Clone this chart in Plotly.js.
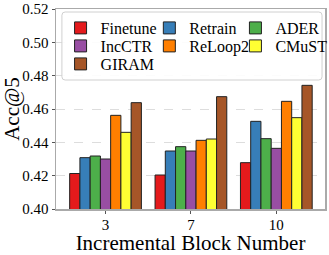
<!DOCTYPE html>
<html>
<head>
<meta charset="utf-8">
<script src="https://cdn.plot.ly/plotly-3.0.1.min.js"></script>
<style>html,body{margin:0;padding:0;background:#fff;}#chart{width:329px;height:255px;}</style>
</head>
<body>
<div id="chart"></div>
<script>
const categories = ['3', '7', '10'];
const seriesNames = ['Finetune', 'Retrain', 'ADER', 'IncCTR', 'ReLoop2', 'CMuST', 'GIRAM'];
const finetune = [0.4213, 0.4204, 0.4278];
const retrain  = [0.4308, 0.4348, 0.4526];
const ader     = [0.4318, 0.4374, 0.4422];
const incctr   = [0.4300, 0.4348, 0.4364];
const reloop2  = [0.4562, 0.4412, 0.4646];
const cmust    = [0.4460, 0.4420, 0.4548];
const giram    = [0.4638, 0.4674, 0.4742];
const seriesValues = [finetune, retrain, ader, incctr, reloop2, cmust, giram];
const colors = ['#e41a1c', '#377eb8', '#4daf4a', '#984ea3', '#ff7f00', '#ffff33', '#a65628'];

const font = 'Liberation Serif, Times New Roman, serif';
const xIdx = categories.map((c, i) => i);

// legend grid: 3 columns, filled row by row
const legendCols = [0.017, 0.347, 0.667];
const legendRows = [0.99, 0.90, 0.81];

const traces = seriesNames.map((name, i) => ({
  type: 'bar',
  name: name,
  x: xIdx,
  y: seriesValues[i],
  legend: i === 0 ? 'legend' : 'legend' + (i + 1),
  marker: {color: colors[i], line: {color: '#222', width: 1}},
  hoverinfo: 'skip'
}));

function legendAt(x, y) {
  return {
    orientation: 'v',
    x: x, y: y, xanchor: 'left', yanchor: 'top',
    bgcolor: 'rgba(0,0,0,0)',
    borderwidth: 0,
    font: {family: font, size: 16, color: '#000'},
    tracegroupgap: 0,
    itemwidth: 30
  };
}

// rounded legend frame in paper coords
const bx0 = 0.022, bx1 = 0.989, by0 = 0.645, by1 = 0.985, rx = 0.012, ry = 0.016;
const framePath = `M ${bx0+rx} ${by1} L ${bx1-rx} ${by1} Q ${bx1} ${by1} ${bx1} ${by1-ry} L ${bx1} ${by0+ry} Q ${bx1} ${by0} ${bx1-rx} ${by0} L ${bx0+rx} ${by0} Q ${bx0} ${by0} ${bx0} ${by0+ry} L ${bx0} ${by1-ry} Q ${bx0} ${by1} ${bx0+rx} ${by1} Z`;

const layout = {
  width: 329, height: 255,
  margin: {l: 56, r: 4, t: 9, b: 46, autoexpand: false},
  paper_bgcolor: '#fff', plot_bgcolor: '#fff',
  barmode: 'group',
  bargap: 0.16,
  bargroupgap: 0,
  font: {family: font, color: '#000', size: 16},
  showlegend: true,
  shapes: [{
    type: 'path', xref: 'paper', yref: 'paper', path: framePath,
    fillcolor: 'rgba(255,255,255,0.9)', line: {color: '#d0d0d0', width: 1}, layer: 'above'
  }],
  xaxis: {
    range: [-0.58, 2.57],
    tickvals: xIdx,
    ticktext: categories,
    ticks: 'outside', ticklen: 3, tickcolor: '#555',
    ticklabelstandoff: -2,
    showgrid: false,
    zeroline: false,
    showline: true, linecolor: '#aaa', linewidth: 1.5, mirror: true,
    tickfont: {family: font, size: 15, color: '#000'},
    title: {text: 'Incremental Block Number', font: {family: font, size: 21, color: '#000'}, standoff: 0}
  },
  yaxis: {
    range: [0.40, 0.52],
    tickvals: [0.40, 0.42, 0.44, 0.46, 0.48, 0.50, 0.52],
    tickformat: '.2f',
    ticks: 'outside', ticklen: 3, tickcolor: '#555',
    showgrid: true, gridcolor: '#ddd', griddash: 'dash', gridwidth: 1,
    zeroline: false,
    showline: true, linecolor: '#aaa', linewidth: 1.5, mirror: true,
    tickfont: {family: font, size: 15, color: '#000'},
    title: {text: 'Acc@5', font: {family: font, size: 21, color: '#000'}, standoff: 5}
  }
};

seriesNames.forEach((n, i) => {
  const key = i === 0 ? 'legend' : 'legend' + (i + 1);
  layout[key] = legendAt(legendCols[i % 3], legendRows[Math.floor(i / 3)]);
});

Plotly.newPlot('chart', traces, layout, {displayModeBar: false, staticPlot: true});
</script>
</body>
</html>
